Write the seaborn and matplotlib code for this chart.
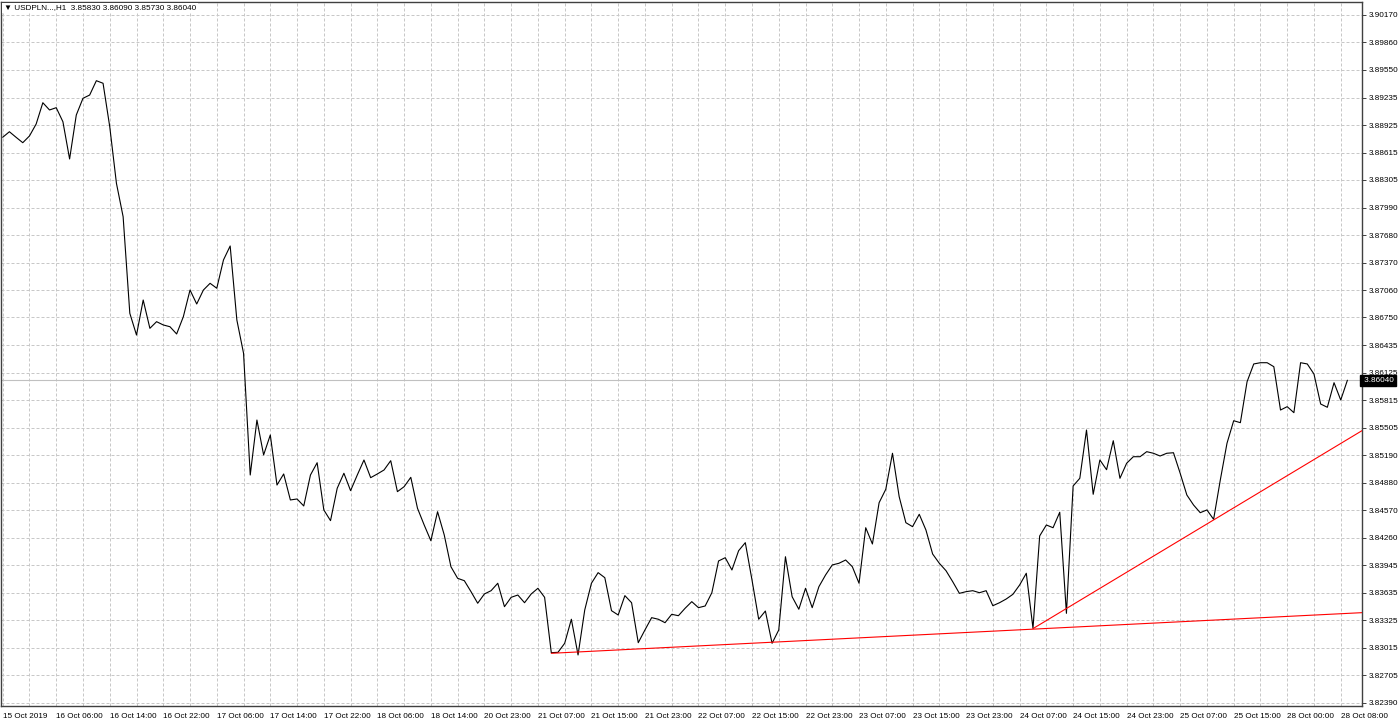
import numpy as np
import pandas as pd
import matplotlib
matplotlib.use("Agg")
import matplotlib.pyplot as plt
import matplotlib.transforms as mtransforms
import seaborn as sns

# ---- data (USDPLN H1 closes) ----
close = [
    3.88787, 3.88850, 3.88787, 3.88726, 3.88802, 3.88937, 3.89178, 3.89096, 3.89122, 3.88963,
    3.88542, 3.89039, 3.89228, 3.89265, 3.89427, 3.89398, 3.88907, 3.88267, 3.87889, 3.86797,
    3.86551, 3.86947, 3.86627, 3.86702, 3.86665, 3.86645, 3.86563, 3.86758, 3.87060, 3.86902,
    3.87060, 3.87136, 3.87080, 3.87400, 3.87558, 3.86721, 3.86345, 3.84968, 3.85590, 3.85195,
    3.85421, 3.84855, 3.84980, 3.84686, 3.84697, 3.84618, 3.84968, 3.85107, 3.84573, 3.84452,
    3.84818, 3.84988, 3.84791, 3.84968, 3.85138, 3.84938, 3.84980, 3.85025, 3.85130, 3.84780,
    3.84836, 3.84942, 3.84592, 3.84403, 3.84225, 3.84553, 3.84290, 3.83931, 3.83800, 3.83773,
    3.83649, 3.83518, 3.83623, 3.83660, 3.83744, 3.83479, 3.83585, 3.83611, 3.83524, 3.83623,
    3.83687, 3.83585, 3.82959, 3.82963, 3.83065, 3.83337, 3.82933, 3.83442, 3.83744, 3.83864,
    3.83807, 3.83434, 3.83385, 3.83604, 3.83524, 3.83072, 3.83216, 3.83355, 3.83337, 3.83298,
    3.83393, 3.83377, 3.83461, 3.83536, 3.83468, 3.83487, 3.83637, 3.83996, 3.84033, 3.83894,
    3.84112, 3.84203, 3.83781, 3.83337, 3.83430, 3.83065, 3.83216, 3.84044, 3.83592, 3.83450,
    3.83687, 3.83468, 3.83705, 3.83838, 3.83951, 3.83970, 3.84007, 3.83931, 3.83744, 3.84372,
    3.84188, 3.84655, 3.84807, 3.85214, 3.84723, 3.84429, 3.84384, 3.84524, 3.84346, 3.84075,
    3.83970, 3.83886, 3.83762, 3.83630, 3.83649, 3.83660, 3.83637, 3.83660, 3.83490, 3.83524,
    3.83566, 3.83619, 3.83724, 3.83857, 3.83235, 3.84279, 3.84403, 3.84372, 3.84547, 3.83404,
    3.84844, 3.84931, 3.85477, 3.84750, 3.85138, 3.85028, 3.85356, 3.84931, 3.85101, 3.85175,
    3.85175, 3.85232, 3.85214, 3.85183, 3.85214, 3.85220, 3.84988, 3.84742, 3.84629, 3.84542,
    3.84573, 3.84467, 3.84912, 3.85327, 3.85582, 3.85560, 3.86023, 3.86224, 3.86238, 3.86238,
    3.86193, 3.85703, 3.85741, 3.85673, 3.86238, 3.86224, 3.86110, 3.85771, 3.85734, 3.86012,
    3.85816, 3.86040,
]

x_labels = [
    "15 Oct 2019", "16 Oct 06:00", "16 Oct 14:00", "16 Oct 22:00", "17 Oct 06:00",
    "17 Oct 14:00", "17 Oct 22:00", "18 Oct 06:00", "18 Oct 14:00", "20 Oct 23:00",
    "21 Oct 07:00", "21 Oct 15:00", "21 Oct 23:00", "22 Oct 07:00", "22 Oct 15:00",
    "22 Oct 23:00", "23 Oct 07:00", "23 Oct 15:00", "23 Oct 23:00", "24 Oct 07:00",
    "24 Oct 15:00", "24 Oct 23:00", "25 Oct 07:00", "25 Oct 15:00", "28 Oct 00:00",
    "28 Oct 08:00",
]

y_labels = [
    3.90170, 3.89860, 3.89550, 3.89235, 3.88925, 3.88615, 3.88305, 3.87990, 3.87680,
    3.87370, 3.87060, 3.86750, 3.86435, 3.86125, 3.85815, 3.85505, 3.85190, 3.84880,
    3.84570, 3.84260, 3.83945, 3.83635, 3.83325, 3.83015, 3.82705, 3.82390,
]

last_price = 3.86040
header = "\u25BC USDPLN...,H1  3.85830 3.86090 3.85730 3.86040"

# trendline anchors (bar index, price)
trend1_bars = [82, 154]
trend1_prices = [3.82952, 3.83225]
trend2_bars = [154, 181]
trend2_prices = [3.83231, 3.84460]

# ---- styling ----
sns.set_style("white")
plt.rcParams["font.family"] = ["Liberation Sans", "DejaVu Sans"]
FS = 5.9

fig = plt.figure(figsize=(14, 7.25), dpi=100)
fig.patch.set_facecolor("white")
ax = fig.add_axes([1 / 1400, 19 / 725, 1361 / 1400, 704 / 725])
ax.set_facecolor("white")

df = pd.DataFrame({"bar": np.arange(len(close)), "close": close})

x_left, x_right = -0.254, 203.18
ax.set_xlim(x_left, x_right)
ax.set_ylim(3.82356, 3.90317)

# grid
ax.set_yticks(y_labels)
ax.set_yticklabels([f"{v:.5f}" for v in y_labels])
ax.set_xticks(np.arange(0, 8 * len(x_labels), 8))
ax.set_xticklabels(x_labels, ha="left")
ax.set_xticks(np.arange(0, 204, 4), minor=True)
grid_kw = dict(color="#c8c8c8", linestyle=(0, (3, 2)), linewidth=0.72)
ax.grid(True, which="major", axis="y", **grid_kw)
ax.grid(True, which="both", axis="x", **grid_kw)
ax.set_axisbelow(True)

# current price line
ax.axhline(last_price, color="#c0c0c0", lw=0.8, zorder=1)

# price series
sns.lineplot(data=df, x="bar", y="close", ax=ax, color="black", lw=0.8, zorder=3)

# trendlines (rays extended to the right edge)
for bars, prices in [(trend1_bars, trend1_prices), (trend2_bars, trend2_prices)]:
    slope = (prices[1] - prices[0]) / (bars[1] - bars[0])
    xs = [bars[0], x_right]
    ys = [prices[0], prices[0] + slope * (x_right - bars[0])]
    tdf = pd.DataFrame({"bar": xs, "price": ys})
    sns.lineplot(data=tdf, x="bar", y="price", ax=ax, color="#ff0000", lw=0.8, zorder=4)

ax.set_xlabel("")
ax.set_ylabel("")

# axes / ticks
ax.yaxis.tick_right()
ax.tick_params(axis="y", which="major", direction="out", length=3, width=0.7,
               color="#404040", labelsize=FS, pad=2, labelcolor="black")
ax.tick_params(axis="x", which="major", direction="out", length=3, width=0.7,
               color="#404040", labelsize=FS, pad=2, labelcolor="black")
ax.tick_params(axis="x", which="minor", length=0)
for lbl in ax.get_xticklabels():
    lbl.set_horizontalalignment("left")
for s in ax.spines.values():
    s.set_visible(True)
    s.set_color("#404040")
    s.set_linewidth(1.0)

# current price label box on the axis
trans = mtransforms.blended_transform_factory(ax.transAxes, ax.transData)
ax.text(1.0, last_price, f" {last_price:.5f}", transform=trans, ha="left", va="center",
        fontsize=FS, color="white", zorder=10, clip_on=False,
        bbox=dict(boxstyle="square,pad=0.25", facecolor="black", edgecolor="black"))

# header
fig.text(4 / 1400, 1 - 8 / 725, header, fontsize=FS, ha="left", va="center", color="black",
         bbox=dict(boxstyle="square,pad=0.2", facecolor="white", edgecolor="none"), zorder=20)

fig.savefig("out.png", dpi=100, facecolor="white")
